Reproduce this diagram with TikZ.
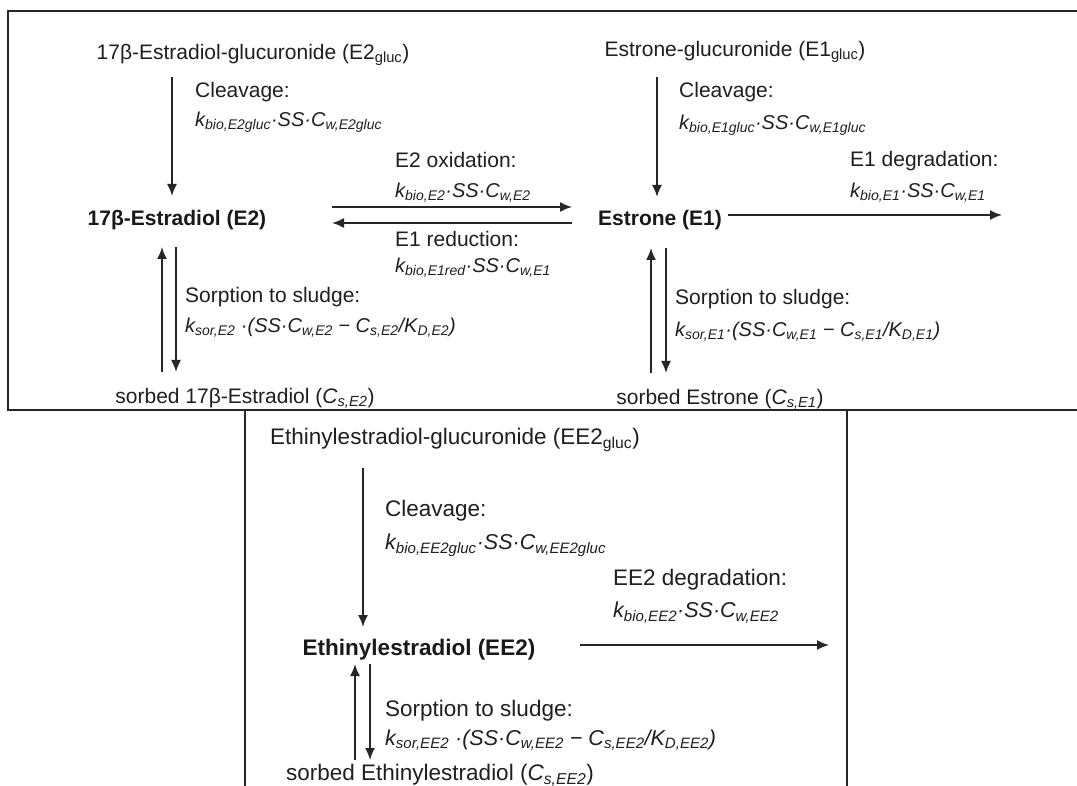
\documentclass[tikz,border=0pt]{standalone}
\usepackage{fontspec}
\setmainfont{Liberation Sans}
\usetikzlibrary{arrows.meta}
\newcommand\sbs[1]{\textsubscript{#1}}
\begin{document}
\begin{tikzpicture}[x=1pt,y=-1pt,
  lbl/.style={inner sep=0pt, text=black!88, font=\fontsize{21}{25}\selectfont},
  bld/.style={inner sep=0pt, text=black!90, font=\fontsize{21}{25}\selectfont\bfseries},
  frm/.style={inner sep=0pt, text=black!88, font=\fontsize{20}{24}\selectfont\itshape},
  lblb/.style={inner sep=0pt, text=black!88, font=\fontsize{22.5}{27}\selectfont},
  bldb/.style={inner sep=0pt, text=black!90, font=\fontsize{22.5}{27}\selectfont\bfseries},
  frmb/.style={inner sep=0pt, text=black!88, font=\fontsize{21.5}{26}\selectfont\itshape},
  arr/.style={-{Latex[length=12pt,width=10pt]}, line width=1.8pt, black!85},
  frame/.style={line width=2.3pt, black!85}]
\useasboundingbox (0,0) rectangle (1077,786);
\fill[white] (0,0) rectangle (1077,786);
% frames
\draw[frame] (1077,11) -- (8,11) -- (8,410) -- (1077,410);
\draw[frame] (245,410) -- (245,786);
\draw[frame] (847,410) -- (847,786);

% ---------- top-left: E2 ----------
\node[lbl] (t1) at (253,55) {17β-Estradiol-glucuronide (E2\sbs{gluc})};
\node[lbl,anchor=west] (cl1) at (195,92) {Cleavage:};
\node[frm,anchor=west] (fc1) at (195,122) {k\sbs{bio,E2gluc}·SS·C\sbs{w,E2gluc}};
\node[bld] (e2) at (177,220) {17β-Estradiol (E2)};
\node[lbl,anchor=west] (ox) at (395,160) {E2 oxidation:};
\node[frm,anchor=west] (fox) at (395,193) {k\sbs{bio,E2}·SS·C\sbs{w,E2}};
\node[lbl,anchor=west] (red) at (395,239) {E1 reduction:};
\node[frm,anchor=west] (fred) at (395,268) {k\sbs{bio,E1red}·SS·C\sbs{w,E1}};
\node[lbl,anchor=west] (so2) at (185,297) {Sorption to sludge:};
\node[frm,anchor=west] (fso2) at (185,328) {k\sbs{sor,E2} ·(SS·C\sbs{w,E2} − C\sbs{s,E2}/K\sbs{D,E2})};
\node[lbl] (s2) at (245,398) {sorbed 17β-Estradiol ({\itshape C\sbs{s,E2}})};

% ---------- top-right: E1 ----------
\node[lbl] (t2) at (735,52) {Estrone-glucuronide (E1\sbs{gluc})};
\node[lbl,anchor=west] (cl2) at (679,92) {Cleavage:};
\node[frm,anchor=west] (fc2) at (679,125) {k\sbs{bio,E1gluc}·SS·C\sbs{w,E1gluc}};
\node[bld] (e1) at (660,220) {Estrone (E1)};
\node[lbl,anchor=west] (dg1) at (850,161) {E1 degradation:};
\node[frm,anchor=west] (fdg1) at (850,193) {k\sbs{bio,E1}·SS·C\sbs{w,E1}};
\node[lbl,anchor=west] (so1) at (675,299) {Sorption to sludge:};
\node[frm,anchor=west] (fso1) at (675,332) {k\sbs{sor,E1}·(SS·C\sbs{w,E1} − C\sbs{s,E1}/K\sbs{D,E1})};
\node[lbl] (s1) at (720,399) {sorbed Estrone ({\itshape C\sbs{s,E1}})};

% ---------- bottom: EE2 ----------
\node[lblb] (t3) at (455,440) {Ethinylestradiol-glucuronide (EE2\sbs{gluc})};
\node[lblb,anchor=west] (cl3) at (385,511) {Cleavage:};
\node[frmb,anchor=west] (fc3) at (385,545) {k\sbs{bio,EE2gluc}·SS·C\sbs{w,EE2gluc}};
\node[bldb] (ee2) at (419,650) {Ethinylestradiol (EE2)};
\node[lblb,anchor=west] (dg3) at (613,580) {EE2 degradation:};
\node[frmb,anchor=west] (fdg3) at (613,613) {k\sbs{bio,EE2}·SS·C\sbs{w,EE2}};
\node[lblb,anchor=west] (so3) at (385,711) {Sorption to sludge:};
\node[frmb,anchor=west] (fso3) at (385,740) {k\sbs{sor,EE2} ·(SS·C\sbs{w,EE2} − C\sbs{s,EE2}/K\sbs{D,EE2})};
\node[lblb] (s3) at (440,775) {sorbed Ethinylestradiol ({\itshape C\sbs{s,EE2}})};

% ---------- arrow end points ----------
\coordinate (c1a) at (172,77);  \coordinate (c1b) at (172,196);
\coordinate (oxa) at (332,207); \coordinate (oxb) at (572,207);
\coordinate (rda) at (572,223); \coordinate (rdb) at (332,223);
\coordinate (u2a) at (162,372); \coordinate (u2b) at (162,247);
\coordinate (d2a) at (176,247); \coordinate (d2b) at (176,372);
\coordinate (c2a) at (657,77);  \coordinate (c2b) at (657,197);
\coordinate (dg1a) at (728,215); \coordinate (dg1b) at (1002,215);
\coordinate (u1a) at (651,373); \coordinate (u1b) at (651,248);
\coordinate (d1a) at (666,248); \coordinate (d1b) at (666,373);
\coordinate (c3a) at (363,468); \coordinate (c3b) at (363,627);
\coordinate (dg3a) at (580,645); \coordinate (dg3b) at (829,645);
\coordinate (u3a) at (355,760); \coordinate (u3b) at (355,664);
\coordinate (d3a) at (370,664); \coordinate (d3b) at (370,760);

\draw[arr] (c1a) -- (c1b);
\draw[arr] (oxa) -- (oxb);
\draw[arr] (rda) -- (rdb);
\draw[arr] (u2a) -- (u2b);
\draw[arr] (d2a) -- (d2b);
\draw[arr] (c2a) -- (c2b);
\draw[arr] (dg1a) -- (dg1b);
\draw[arr] (u1a) -- (u1b);
\draw[arr] (d1a) -- (d1b);
\draw[arr] (c3a) -- (c3b);
\draw[arr] (dg3a) -- (dg3b);
\draw[arr] (u3a) -- (u3b);
\draw[arr] (d3a) -- (d3b);
\end{tikzpicture}
\end{document}
